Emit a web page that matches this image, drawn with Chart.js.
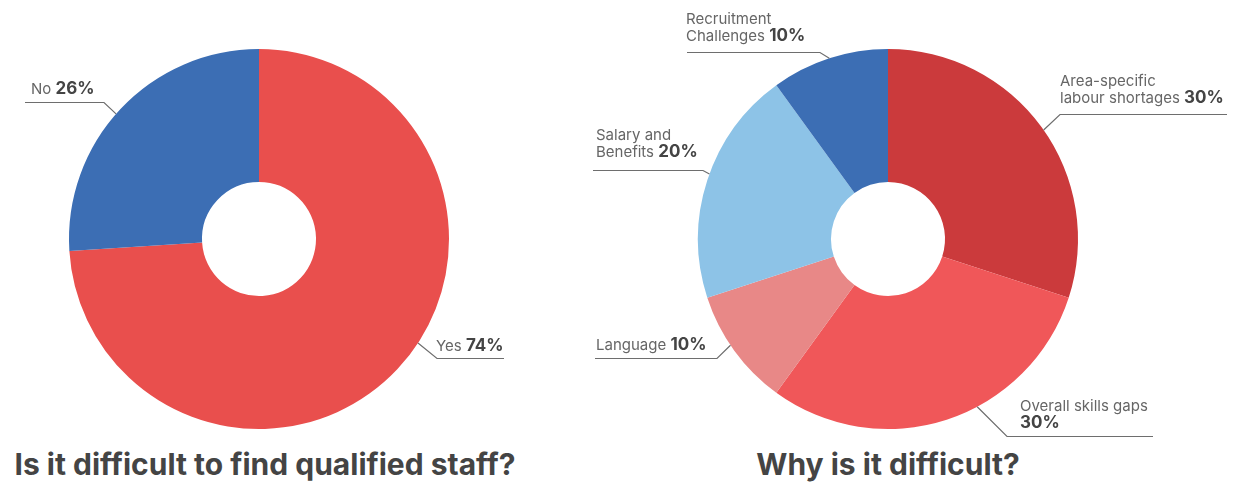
<!DOCTYPE html>
<html>
<head>
<meta charset="utf-8">
<title>Qualified staff</title>
<script src="https://cdn.jsdelivr.net/npm/chart.js@4"></script>
<style>
    html, body { margin: 0; padding: 0; background: #fff; }
    body { position: relative; width: 1237px; height: 488px; overflow: hidden; font-family: Inter, sans-serif; }
    .chart-box { position: absolute; top: 0; height: 440px; }
    #box-left { left: 0; width: 560px; }
    #box-right { left: 560px; width: 677px; }
    .chart-title { position: absolute; top: 446px; font-size: 30px; font-weight: 700; color: #444; text-align: center; white-space: nowrap; }
    #title-left { left: 0; width: 530px; }
    #title-right { left: 688px; width: 400px; }
</style>
</head>
<body>
<div class="chart-box" id="box-left"><canvas id="staffChart"></canvas></div>
<div class="chart-box" id="box-right"><canvas id="reasonChart"></canvas></div>
<div class="chart-title" id="title-left">Is it difficult to find qualified staff?</div>
<div class="chart-title" id="title-right">Why is it difficult?</div>

<script>
// ---- data ----
const staffCategories = [['Yes'], ['No']];
const staffValues = [74, 26];
const staffColors = ['#e94f4d', '#3c6eb4'];

const reasonCategories = [
    ['Area-specific', 'labour shortages'],
    ['Overall skills gaps'],
    ['Language'],
    ['Salary and', 'Benefits'],
    ['Recruitment', 'Challenges']
];
const reasonValues = [30, 30, 10, 20, 10];
const reasonColors = ['#cb3a3c', '#f05759', '#e88887', '#8dc3e7', '#3c6eb4'];

// ---- label placement, relative to the doughnut centre ----
const staffSpots = [
    { shift: -10, elbow: [178, 119], end: 245, text: [177, 112] },
    { shift: -2, elbow: [-155, -137], end: -234, text: [-228, -145] }
];
const reasonSpots = [
    { shift: 1, elbow: [172, -125], end: 339, text: [172, -136] },
    { shift: -10, elbow: [119, 197], end: 265, text: [132, 189], valueBreak: true },
    { shift: 2, elbow: [-171, 119], end: -293, text: [-292, 111] },
    { shift: 2, elbow: [-185, -69], end: -295, text: [-292, -82] },
    { shift: 0, elbow: [-68, -187], end: -201, text: [-202, -198] }
];

// draws the callout lines and texts next to each slice
const leaderLabels = {
    id: 'leaderLabels',
    afterDatasetsDraw(chart, args, opts) {
        const ctx = chart.ctx;
        const meta = chart.getDatasetMeta(0);
        const values = chart.data.datasets[0].data;
        const lineHeight = 17;

        meta.data.forEach((arc, i) => {
            const spot = opts.spots[i];
            if (!spot) return;

            const a = (arc.startAngle + arc.endAngle) / 2 + spot.shift * Math.PI / 180;
            const ax = arc.x + arc.outerRadius * Math.cos(a);
            const ay = arc.y + arc.outerRadius * Math.sin(a);
            const ex = arc.x + spot.elbow[0];
            const ey = Math.round(arc.y + spot.elbow[1]) + 0.5;

            ctx.save();
            ctx.strokeStyle = '#6e6e6e';
            ctx.lineWidth = 1.2;
            ctx.beginPath();
            ctx.moveTo(ax, ay);
            ctx.lineTo(ex, ey);
            ctx.lineTo(arc.x + spot.end, ey);
            ctx.stroke();

            const lines = chart.data.labels[i].slice();
            if (spot.valueBreak) lines.push('');
            const tx = arc.x + spot.text[0];
            const lastY = arc.y + spot.text[1];
            ctx.textBaseline = 'alphabetic';
            ctx.textAlign = 'left';

            lines.forEach((line, j) => {
                const y = lastY - (lines.length - 1 - j) * lineHeight;
                ctx.font = '400 15px Inter, sans-serif';
                ctx.fillStyle = '#666';
                ctx.fillText(line, tx, y);
                if (j === lines.length - 1) {
                    const w = line ? ctx.measureText(line + ' ').width : 0;
                    ctx.font = '700 17px Inter, sans-serif';
                    ctx.fillStyle = '#444';
                    ctx.fillText(values[i] + '%', tx + w, y);
                }
            });
            ctx.restore();
        });
    }
};

function makeDoughnut(id, labels, values, colors, spots, padding) {
    return new Chart(document.getElementById(id), {
        type: 'doughnut',
        data: {
            labels: labels,
            datasets: [{
                data: values,
                backgroundColor: colors,
                borderWidth: 0
            }]
        },
        options: {
            responsive: true,
            maintainAspectRatio: false,
            animation: false,
            cutout: '30%',
            layout: { padding: padding },
            plugins: {
                legend: { display: false },
                tooltip: { enabled: false },
                leaderLabels: { spots: spots }
            }
        },
        plugins: [leaderLabels]
    });
}

makeDoughnut('staffChart', staffCategories, staffValues, staffColors, staffSpots,
    { top: 49, bottom: 11, left: 69, right: 111 });
makeDoughnut('reasonChart', reasonCategories, reasonValues, reasonColors, reasonSpots,
    { top: 49, bottom: 11, left: 138, right: 159 });
</script>
</body>
</html>
